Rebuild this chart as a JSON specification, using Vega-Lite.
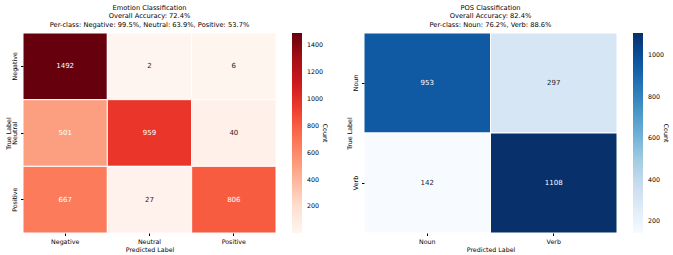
{
  "$schema": "https://vega.github.io/schema/vega-lite/v6.json",
  "background": "white",
  "padding": {"left": 5, "top": 4, "right": 2, "bottom": 2},
  "config": {
    "font": "DejaVu Sans",
    "view": {"stroke": null},
    "title": {"fontSize": 6.7, "fontWeight": "normal", "color": "#000", "lineHeight": 8.5, "offset": 4},
    "axis": {"labelFontSize": 6.3, "titleFontSize": 6.3, "titleFontWeight": "normal", "labelColor": "#000", "titleColor": "#000", "domain": false, "tickColor": "#000", "tickSize": 2.5, "labelPadding": 3, "grid": false},
    "legend": {"labelFontSize": 6.3, "titleFontSize": 6.3, "titleFontWeight": "normal", "labelColor": "#000", "titleColor": "#000"},
    "concat": {"spacing": 18}
  },
  "datasets": {
    "emotion": [
      {"true": "Negative", "pred": "Negative", "count": 1492},
      {"true": "Negative", "pred": "Neutral", "count": 2},
      {"true": "Negative", "pred": "Positive", "count": 6},
      {"true": "Neutral", "pred": "Negative", "count": 501},
      {"true": "Neutral", "pred": "Neutral", "count": 959},
      {"true": "Neutral", "pred": "Positive", "count": 40},
      {"true": "Positive", "pred": "Negative", "count": 667},
      {"true": "Positive", "pred": "Neutral", "count": 27},
      {"true": "Positive", "pred": "Positive", "count": 806}
    ],
    "pos": [
      {"true": "Noun", "pred": "Noun", "count": 953},
      {"true": "Noun", "pred": "Verb", "count": 297},
      {"true": "Verb", "pred": "Noun", "count": 142},
      {"true": "Verb", "pred": "Verb", "count": 1108}
    ]
  },
  "hconcat": [
    {
      "title": {"text": ["Emotion Classification", "Overall Accuracy: 72.4%", "Per-class: Negative: 99.5%, Neutral: 63.9%, Positive: 53.7%"]},
      "width": 253,
      "height": 200,
      "data": {"name": "emotion"},
      "encoding": {
        "x": {"field": "pred", "type": "nominal", "sort": ["Negative", "Neutral", "Positive"], "title": "Predicted Label", "scale": {"paddingInner": 0, "paddingOuter": 0}, "axis": {"labelAngle": 0, "titlePadding": 2}},
        "y": {"field": "true", "type": "nominal", "sort": ["Negative", "Neutral", "Positive"], "title": "True Label", "scale": {"paddingInner": 0, "paddingOuter": 0}, "axis": {"labelAngle": 270, "labelAlign": "center", "labelBaseline": "bottom", "titlePadding": 0}}
      },
      "layer": [
        {
          "mark": {"type": "rect", "stroke": "white", "strokeWidth": 1},
          "encoding": {
            "color": {"field": "count", "type": "quantitative", "title": "Count",
              "scale": {"type": "linear", "domain": [2, 188.25, 374.5, 560.75, 747, 933.25, 1119.5, 1305.75, 1492], "range": ["#fff5f0", "#fee0d2", "#fcbba1", "#fc9272", "#fb6a4a", "#ef3b2c", "#cb181d", "#a50f15", "#67000d"], "interpolate": "rgb"},
              "legend": {"gradientLength": 200, "gradientThickness": 10, "offset": 16, "values": [200, 400, 600, 800, 1000, 1200, 1400], "format": "d", "titleOrient": "right", "titleAngle": 270, "titleAnchor": "middle", "titleBaseline": "top", "gradientStrokeWidth": 0, "labelOffset": 5}}
          }
        },
        {
          "mark": {"type": "text", "fontSize": 7},
          "encoding": {
            "text": {"field": "count", "type": "quantitative"},
            "color": {"condition": {"test": "datum.count > 400", "value": "white"}, "value": "#262626"}
          }
        }
      ]
    },
    {
      "title": {"text": ["POS Classification", "Overall Accuracy: 82.4%", "Per-class: Noun: 76.2%, Verb: 88.6%"]},
      "width": 253,
      "height": 200,
      "data": {"name": "pos"},
      "encoding": {
        "x": {"field": "pred", "type": "nominal", "sort": ["Noun", "Verb"], "title": "Predicted Label", "scale": {"paddingInner": 0, "paddingOuter": 0}, "axis": {"labelAngle": 0, "titlePadding": 2}},
        "y": {"field": "true", "type": "nominal", "sort": ["Noun", "Verb"], "title": "True Label", "scale": {"paddingInner": 0, "paddingOuter": 0}, "axis": {"labelAngle": 270, "labelAlign": "center", "labelBaseline": "bottom", "titlePadding": 0}}
      },
      "layer": [
        {
          "mark": {"type": "rect", "stroke": "white", "strokeWidth": 1},
          "encoding": {
            "color": {"field": "count", "type": "quantitative", "title": "Count",
              "scale": {"type": "linear", "domain": [142, 262.75, 383.5, 504.25, 625, 745.75, 866.5, 987.25, 1108], "range": ["#f7fbff", "#deebf7", "#c6dbef", "#9ecae1", "#6baed6", "#4292c6", "#2171b5", "#08519c", "#08306b"], "interpolate": "rgb"},
              "legend": {"gradientLength": 200, "gradientThickness": 10, "offset": 16, "values": [200, 400, 600, 800, 1000], "format": "d", "titleOrient": "right", "titleAngle": 270, "titleAnchor": "middle", "titleBaseline": "top", "gradientStrokeWidth": 0, "labelOffset": 5}}
          }
        },
        {
          "mark": {"type": "text", "fontSize": 7},
          "encoding": {
            "text": {"field": "count", "type": "quantitative"},
            "color": {"condition": {"test": "datum.count > 400", "value": "white"}, "value": "#262626"}
          }
        }
      ]
    }
  ],
  "resolve": {"scale": {"color": "independent"}}
}
